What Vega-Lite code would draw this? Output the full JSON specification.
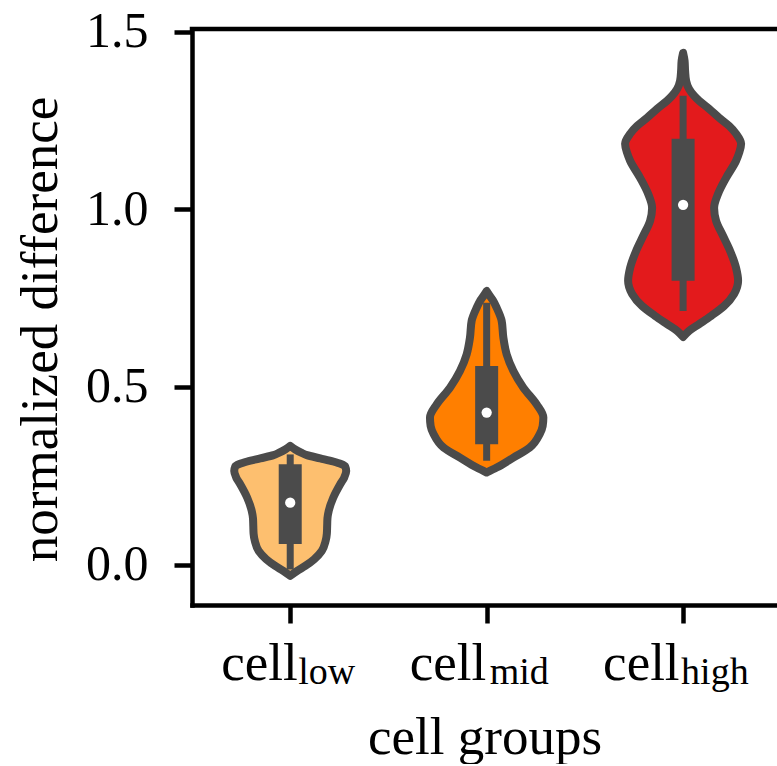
{
  "$schema": "https://vega.github.io/schema/vega-lite/v6.json",
  "width": 585,
  "height": 576,
  "padding": {"left": 14, "top": 6, "right": 0, "bottom": 0},
  "config": {"view": {"stroke": null}, "font": "Liberation Serif"},
  "datasets": {
    "violin": [
      {"group": "low", "v": 0.334, "lo": 0, "hi": 0},
      {"group": "low", "v": 0.324, "lo": -0.0255, "hi": 0.0255},
      {"group": "low", "v": 0.315, "lo": -0.056, "hi": 0.056},
      {"group": "low", "v": 0.308, "lo": -0.085, "hi": 0.085},
      {"group": "low", "v": 0.299, "lo": -0.1527, "hi": 0.1527},
      {"group": "low", "v": 0.290, "lo": -0.2189, "hi": 0.2189},
      {"group": "low", "v": 0.276, "lo": -0.28, "hi": 0.28},
      {"group": "low", "v": 0.263, "lo": -0.285, "hi": 0.285},
      {"group": "low", "v": 0.245, "lo": -0.275, "hi": 0.275},
      {"group": "low", "v": 0.226, "lo": -0.2545, "hi": 0.2545},
      {"group": "low", "v": 0.188, "lo": -0.2189, "hi": 0.2189},
      {"group": "low", "v": 0.151, "lo": -0.196, "hi": 0.196},
      {"group": "low", "v": 0.130, "lo": -0.1895, "hi": 0.1895},
      {"group": "low", "v": 0.108, "lo": -0.1880, "hi": 0.1880},
      {"group": "low", "v": 0.087, "lo": -0.1865, "hi": 0.1865},
      {"group": "low", "v": 0.066, "lo": -0.180, "hi": 0.180},
      {"group": "low", "v": 0.038, "lo": -0.1604, "hi": 0.1604},
      {"group": "low", "v": 0.015, "lo": -0.1222, "hi": 0.1222},
      {"group": "low", "v": -0.004, "lo": -0.0764, "hi": 0.0764},
      {"group": "low", "v": -0.018, "lo": -0.0356, "hi": 0.0356},
      {"group": "low", "v": -0.032, "lo": 0, "hi": 0},
      {"group": "mid", "v": 0.770, "lo": 1, "hi": 1},
      {"group": "mid", "v": 0.761, "lo": 0.9898, "hi": 1.0102},
      {"group": "mid", "v": 0.745, "lo": 0.9695, "hi": 1.0305},
      {"group": "mid", "v": 0.723, "lo": 0.9491, "hi": 1.0509},
      {"group": "mid", "v": 0.686, "lo": 0.9236, "hi": 1.0764},
      {"group": "mid", "v": 0.639, "lo": 0.915, "hi": 1.085},
      {"group": "mid", "v": 0.592, "lo": 0.8982, "hi": 1.1018},
      {"group": "mid", "v": 0.545, "lo": 0.8641, "hi": 1.1359},
      {"group": "mid", "v": 0.498, "lo": 0.8132, "hi": 1.1868},
      {"group": "mid", "v": 0.451, "lo": 0.7455, "hi": 1.2545},
      {"group": "mid", "v": 0.414, "lo": 0.7114, "hi": 1.2886},
      {"group": "mid", "v": 0.390, "lo": 0.7149, "hi": 1.2851},
      {"group": "mid", "v": 0.367, "lo": 0.7302, "hi": 1.2698},
      {"group": "mid", "v": 0.329, "lo": 0.7811, "hi": 1.2189},
      {"group": "mid", "v": 0.301, "lo": 0.8641, "hi": 1.1359},
      {"group": "mid", "v": 0.273, "lo": 0.9491, "hi": 1.0509},
      {"group": "mid", "v": 0.259, "lo": 1, "hi": 1},
      {"group": "high", "v": 1.441, "lo": 2, "hi": 2},
      {"group": "high", "v": 1.418, "lo": 1.9924, "hi": 2.0076},
      {"group": "high", "v": 1.390, "lo": 1.9898, "hi": 2.0102},
      {"group": "high", "v": 1.362, "lo": 1.9847, "hi": 2.0153},
      {"group": "high", "v": 1.339, "lo": 1.9695, "hi": 2.0305},
      {"group": "high", "v": 1.320, "lo": 1.944, "hi": 2.056},
      {"group": "high", "v": 1.306, "lo": 1.9185, "hi": 2.0815},
      {"group": "high", "v": 1.283, "lo": 1.8676, "hi": 2.1324},
      {"group": "high", "v": 1.258, "lo": 1.8167, "hi": 2.1833},
      {"group": "high", "v": 1.235, "lo": 1.7658, "hi": 2.2342},
      {"group": "high", "v": 1.213, "lo": 1.7302, "hi": 2.2698},
      {"group": "high", "v": 1.185, "lo": 1.7047, "hi": 2.2953},
      {"group": "high", "v": 1.159, "lo": 1.7149, "hi": 2.2851},
      {"group": "high", "v": 1.137, "lo": 1.7302, "hi": 2.2698},
      {"group": "high", "v": 1.089, "lo": 1.7811, "hi": 2.2189},
      {"group": "high", "v": 1.044, "lo": 1.8218, "hi": 2.1782},
      {"group": "high", "v": 1.004, "lo": 1.8422, "hi": 2.1578},
      {"group": "high", "v": 0.968, "lo": 1.832, "hi": 2.168},
      {"group": "high", "v": 0.925, "lo": 1.7964, "hi": 2.2036},
      {"group": "high", "v": 0.883, "lo": 1.7607, "hi": 2.2393},
      {"group": "high", "v": 0.835, "lo": 1.7302, "hi": 2.2698},
      {"group": "high", "v": 0.799, "lo": 1.72, "hi": 2.28},
      {"group": "high", "v": 0.762, "lo": 1.7404, "hi": 2.2596},
      {"group": "high", "v": 0.728, "lo": 1.7913, "hi": 2.2087},
      {"group": "high", "v": 0.700, "lo": 1.8575, "hi": 2.1425},
      {"group": "high", "v": 0.677, "lo": 1.9185, "hi": 2.0815},
      {"group": "high", "v": 0.658, "lo": 1.9695, "hi": 2.0305},
      {"group": "high", "v": 0.641, "lo": 2, "hi": 2}
    ],
    "stats": [
      {"group": "low", "pos": 0, "sub": "low", "wlo": -0.014, "whi": 0.310, "q1": 0.058, "q3": 0.282, "med": 0.174},
      {"group": "mid", "pos": 1, "sub": "mid", "wlo": 0.292, "whi": 0.737, "q1": 0.339, "q3": 0.559, "med": 0.428},
      {"group": "high", "pos": 2, "sub": "high", "wlo": 0.714, "whi": 1.320, "q1": 0.799, "q3": 1.199, "med": 1.013}
    ]
  },
  "layer": [
    {
      "data": {"name": "violin"},
      "mark": {"type": "area", "orient": "horizontal", "interpolate": "monotone", "stroke": "#4b4b4b", "strokeWidth": 8, "strokeJoin": "round", "fillOpacity": 1},
      "encoding": {
        "y": {
          "field": "v", "type": "quantitative", "title": "normalized difference",
          "scale": {"domain": [-0.114, 1.508], "nice": false, "zero": false},
          "axis": {
            "values": [0, 0.5, 1, 1.5], "format": ".1f", "grid": false,
            "domainColor": "black", "domainWidth": 4.5, "domainCap": "square",
            "tickColor": "black", "tickWidth": 4.5, "tickSize": 18,
            "labelFont": "Liberation Serif", "labelFontSize": 50, "labelColor": "black", "labelPadding": 26,
            "titleFont": "Liberation Serif", "titleFontSize": 53, "titleFontWeight": "normal", "titleColor": "black", "titlePadding": 18, "titleY": 300
          }
        },
        "x": {
          "field": "lo", "type": "quantitative", "title": "cell groups",
          "scale": {"domain": [-0.5, 2.478], "nice": false, "zero": false},
          "axis": {
            "values": [0, 1, 2], "labelExpr": "'cell'", "grid": false,
            "domainColor": "black", "domainWidth": 4.5, "domainCap": "square",
            "tickColor": "black", "tickWidth": 4.5, "tickSize": 18,
            "labelFont": "Liberation Serif", "labelFontSize": 53, "labelColor": "black",
            "labelAlign": "right", "labelBaseline": "alphabetic", "labelPadding": 56,
            "labelOffset": {"condition": [{"test": "datum.value == 0", "value": 7}, {"test": "datum.value == 2", "value": -4}], "value": -1},
            "titleFont": "Liberation Serif", "titleFontSize": 53, "titleFontWeight": "normal", "titleColor": "black", "titlePadding": 21
          }
        },
        "x2": {"field": "hi"},
        "fill": {"field": "group", "type": "nominal", "scale": {"domain": ["low", "mid", "high"], "range": ["#fdbf6f", "#ff7f00", "#e31a1c"]}, "legend": null}
      }
    },
    {
      "data": {"name": "stats"},
      "mark": {"type": "rule", "color": "#4b4b4b", "strokeWidth": 7, "strokeCap": "butt"},
      "encoding": {
        "x": {"field": "pos", "type": "quantitative", "title": "cell groups", "scale": {"domain": [-0.5, 2.478], "nice": false, "zero": false}},
        "y": {"field": "wlo", "type": "quantitative", "title": "normalized difference", "scale": {"domain": [-0.114, 1.508], "nice": false, "zero": false}},
        "y2": {"field": "whi"}
      }
    },
    {
      "data": {"name": "stats"},
      "mark": {"type": "rule", "color": "#4b4b4b", "strokeWidth": 23, "strokeCap": "butt"},
      "encoding": {
        "x": {"field": "pos", "type": "quantitative", "title": "cell groups", "scale": {"domain": [-0.5, 2.478], "nice": false, "zero": false}},
        "y": {"field": "q1", "type": "quantitative", "title": "normalized difference", "scale": {"domain": [-0.114, 1.508], "nice": false, "zero": false}},
        "y2": {"field": "q3"}
      }
    },
    {
      "data": {"name": "stats"},
      "mark": {"type": "point", "filled": true, "color": "white", "opacity": 1, "size": 105},
      "encoding": {
        "x": {"field": "pos", "type": "quantitative", "title": "cell groups", "scale": {"domain": [-0.5, 2.478], "nice": false, "zero": false}},
        "y": {"field": "med", "type": "quantitative", "title": "normalized difference", "scale": {"domain": [-0.114, 1.508], "nice": false, "zero": false}}
      }
    },
    {
      "data": {"name": "stats"},
      "mark": {"type": "text", "align": "left", "baseline": "alphabetic", "font": "Liberation Serif", "fontSize": 38, "color": "black", "dy": 79,
               "dx": {"expr": "datum.pos == 0 ? 8 : datum.pos == 2 ? -2 : 3"}},
      "encoding": {
        "x": {"field": "pos", "type": "quantitative", "title": "cell groups", "scale": {"domain": [-0.5, 2.478], "nice": false, "zero": false}},
        "y": {"datum": -0.114, "type": "quantitative", "scale": {"domain": [-0.114, 1.508], "nice": false, "zero": false}},
        "text": {"field": "sub", "type": "nominal"}
      }
    },
    {
      "data": {"values": [{}]},
      "mark": {"type": "rule", "color": "black", "strokeWidth": 4.5, "strokeCap": "square"},
      "encoding": {
        "x": {"datum": -0.5, "type": "quantitative", "scale": {"domain": [-0.5, 2.478], "nice": false, "zero": false}},
        "x2": {"datum": 2.478},
        "y": {"datum": 1.508, "type": "quantitative", "scale": {"domain": [-0.114, 1.508], "nice": false, "zero": false}}
      }
    }
  ]
}
